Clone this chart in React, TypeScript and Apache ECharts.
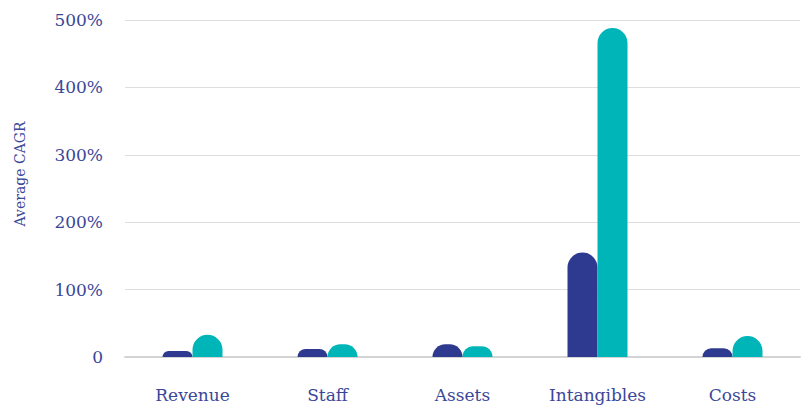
import React, { useEffect, useRef } from "react";
import * as echarts from "echarts";

const categories = ["Revenue", "Staff", "Assets", "Intangibles", "Costs"];
const seriesA = [9, 12, 19, 155, 13];
const seriesB = [33, 19, 16, 488, 31];
const yTicks = { min: 0, max: 500, interval: 100 };

const TEXT = "#3a4799";
const FONT = "DejaVu Serif";

export default function App() {
  const ref = useRef<HTMLDivElement>(null);
  useEffect(() => {
    document.body.style.margin = "0";
    const chart = echarts.init(ref.current!, null, { renderer: "svg" });
    chart.setOption({
      animation: false,
      grid: { left: 125, right: 4, top: 20, bottom: 49 },
      graphic: [
        {
          type: "text",
          x: 20,
          y: 174,
          rotation: Math.PI / 2,
          style: {
            text: "Average CAGR",
            fill: TEXT,
            font: `14px "${FONT}"`,
            align: "center",
            verticalAlign: "middle",
          },
        },
      ],
      xAxis: {
        type: "category",
        data: categories,
        axisTick: { show: false },
        axisLine: { show: true, lineStyle: { color: "#d4d4d6", width: 2 } },
        axisLabel: { color: TEXT, fontFamily: FONT, fontSize: 17, margin: 29 },
      },
      yAxis: {
        type: "value",
        min: yTicks.min,
        max: yTicks.max,
        interval: yTicks.interval,
        axisLine: { show: false },
        axisTick: { show: false },
        splitLine: { lineStyle: { color: "#dedede", width: 1 } },
        axisLabel: {
          color: TEXT,
          fontFamily: FONT,
          fontSize: 17,
          margin: 22,
          formatter: (v: number) => (v === 0 ? "0" : v + "%"),
        },
      },
      series: [
        {
          type: "bar",
          data: seriesA,
          barWidth: 30,
          barGap: "0%",
          itemStyle: { color: "#2e3a8f", borderRadius: [15, 15, 0, 0] },
        },
        {
          type: "bar",
          data: seriesB,
          barWidth: 30,
          itemStyle: { color: "#00b5b8", borderRadius: [15, 15, 0, 0] },
        },
      ],
    });
    return () => chart.dispose();
  }, []);
  return <div ref={ref} style={{ width: 804, height: 406 }} />;
}
